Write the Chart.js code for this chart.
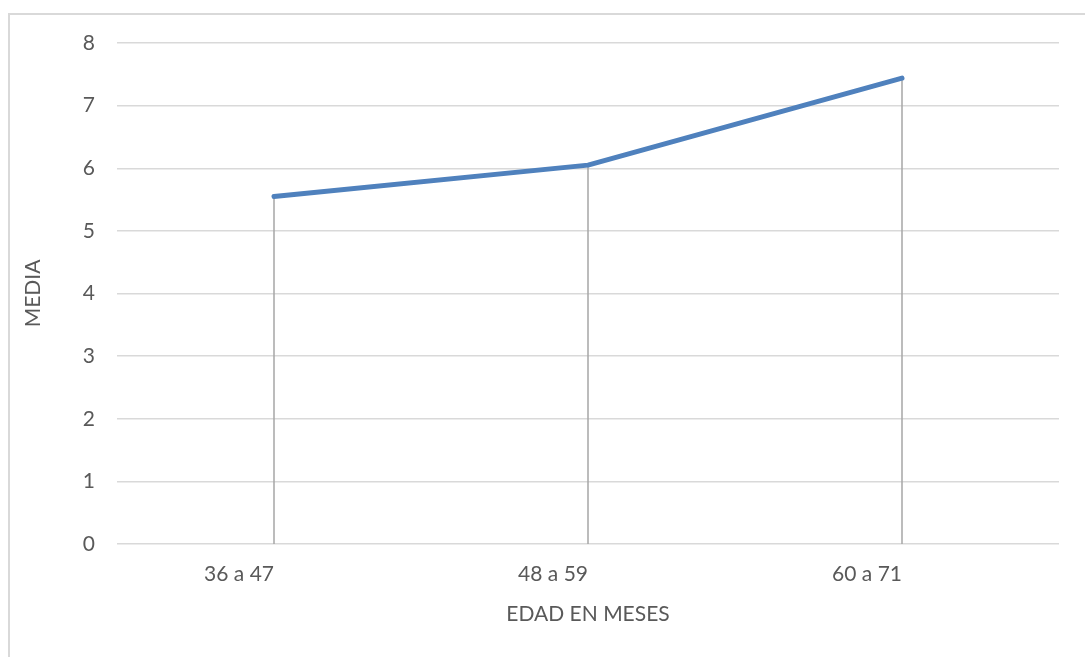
<!DOCTYPE html>
<html>
<head>
<meta charset="utf-8">
<script src="https://cdn.jsdelivr.net/npm/chart.js@4/dist/chart.umd.min.js"></script>
<style>
  html, body { margin: 0; padding: 0; background: #fff; overflow: hidden; }
  #frame {
    position: absolute; left: 8px; top: 13px;
    width: 1200px; height: 800px;
    border: 2px solid #d9d9d9;
  }
  #wrap { position: absolute; left: 0; top: 0; width: 1085px; height: 657px; }
</style>
</head>
<body>
<div id="frame"></div>
<div id="wrap"><canvas id="myChart" width="1085" height="657"></canvas></div>
<script>
const ageGroups = ["36 a 47", "48 a 59", "60 a 71"];
const meanValues = [5.55, 6.05, 7.44];
const yTicks = [0, 1, 2, 3, 4, 5, 6, 7, 8];

const textColor = "#595959";
const fontFamily = "Lato, 'Open Sans', sans-serif";

// vertical drop lines from every point down to the zero line
const dropLines = {
  id: "dropLines",
  beforeDatasetsDraw(chart) {
    const ctx = chart.ctx;
    const y0 = chart.scales.y.getPixelForValue(0);
    const meta = chart.getDatasetMeta(0);
    ctx.save();
    ctx.strokeStyle = "#a6a6a6";
    ctx.lineWidth = 1.5;
    meta.data.forEach((pt) => {
      ctx.beginPath();
      ctx.moveTo(pt.x, pt.y);
      ctx.lineTo(pt.x, y0);
      ctx.stroke();
    });
    ctx.restore();
  },
};

const ctx = document.getElementById("myChart").getContext("2d");

const myChart = new Chart(ctx, {
  type: "line",
  data: {
    labels: ageGroups,
    datasets: [
      {
        label: "MEDIA",
        data: meanValues,
        borderColor: "#4f81bd",
        backgroundColor: "#4f81bd",
        borderWidth: 5,
        borderCapStyle: "round",
        borderJoinStyle: "round",
        pointRadius: 0,
        tension: 0,
      },
    ],
  },
  plugins: [dropLines],
  options: {
    responsive: false,
    animation: false,
    layout: { padding: { left: 21, right: 26, top: 43, bottom: 30 } },
    plugins: {
      legend: { display: false },
      tooltip: { enabled: false },
    },
    scales: {
      x: {
        offset: true,
        grid: { display: false, drawTicks: false },
        border: { display: false },
        ticks: {
          color: textColor,
          font: { family: fontFamily, size: 21 },
          padding: 18,
          align: "end",
          maxRotation: 0,
        },
        title: {
          display: true,
          text: "EDAD EN MESES",
          color: textColor,
          font: { family: fontFamily, size: 21 },
          padding: { top: 12, bottom: 0 },
        },
        afterFit: (scale) => {
          scale.height = 83;
        },
      },
      y: {
        min: 0,
        max: 8,
        afterBuildTicks: (scale) => {
          scale.ticks = yTicks.map((v) => ({ value: v }));
        },
        grid: { color: "#d9d9d9", lineWidth: 1.5, drawTicks: false },
        border: { display: false },
        ticks: {
          color: textColor,
          font: { family: fontFamily, size: 21 },
          padding: 22,
        },
        title: {
          display: true,
          text: "MEDIA",
          color: textColor,
          font: { family: fontFamily, size: 21 },
          padding: { top: 0, bottom: 0 },
        },
        afterFit: (scale) => {
          scale.width = 96;
        },
      },
    },
  },
});
</script>
</body>
</html>
